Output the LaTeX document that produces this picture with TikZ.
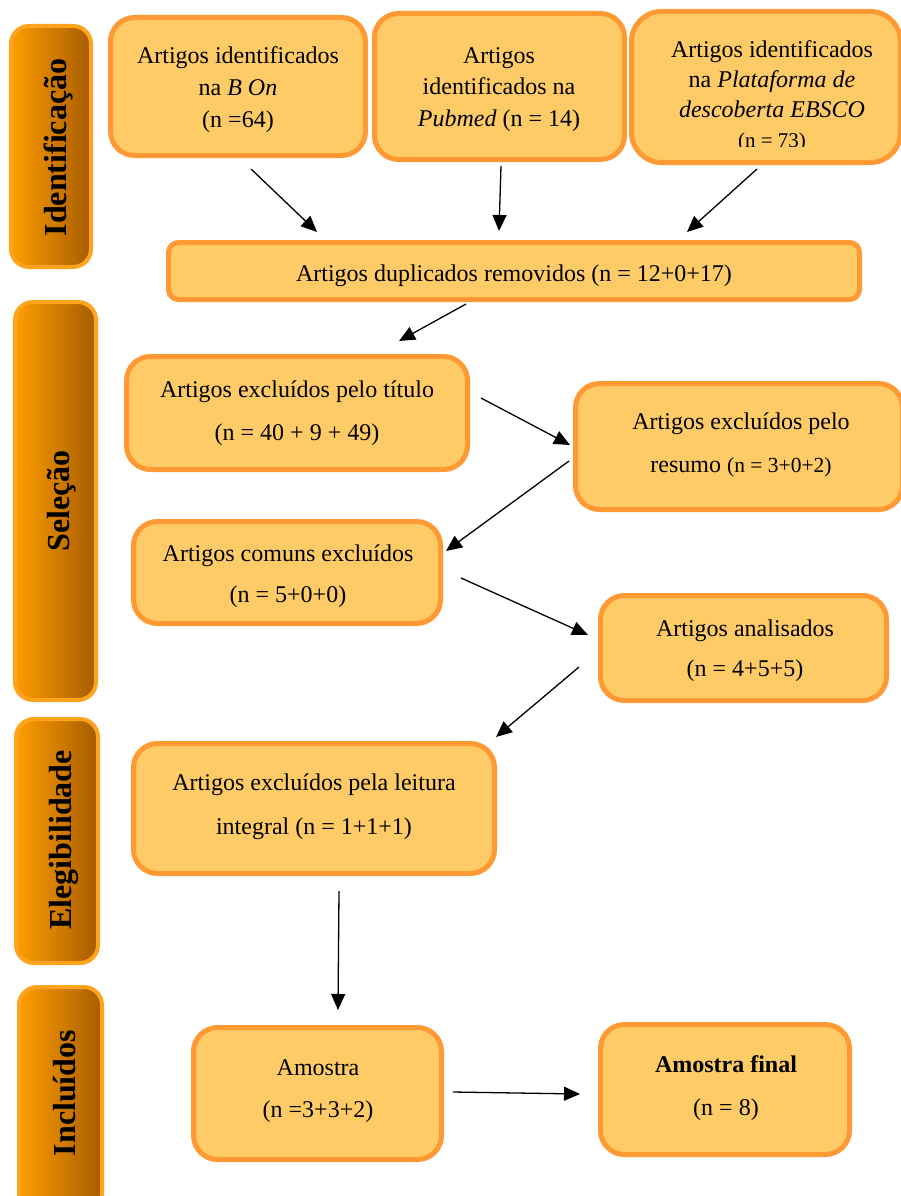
\documentclass[tikz,border=0pt]{standalone}
\usepackage{fontspec}
\setmainfont{Liberation Serif}
\usetikzlibrary{arrows.meta}
\definecolor{boxfill}{HTML}{FECB66}
\definecolor{boxline}{HTML}{FF9933}
\definecolor{barA}{HTML}{FF9E00}
\definecolor{barB}{HTML}{A65C00}
\definecolor{barline}{HTML}{FFA41C}
\begin{document}
\begin{tikzpicture}[x=1pt,y=-1pt,
  box/.style={draw=boxline, line width=5pt, fill=boxfill, rounded corners=24pt, inner sep=0pt},
  txt/.style={align=center, inner sep=0pt, yshift=-3pt},
  bar/.style={draw=barline, line width=4pt, rounded corners=18pt, left color=barA, right color=barB, inner sep=0pt},
  barlbl/.style={rotate=90, font=\fontsize{32}{38}\selectfont\bfseries, inner sep=0pt},
  arr/.style={line width=1.3pt, -{Triangle[length=16pt,width=14pt]}}
]
\useasboundingbox (0,0) rectangle (901,1196);

% side bars
\node[bar, minimum width=80pt, minimum height=241pt] (idb) at (51,146.5) {};
\node[barlbl] (idl) at (59,147.5) {Identificação};
\node[bar, minimum width=81pt, minimum height=398pt] (selb) at (55.5,501) {};
\node[barlbl] (sell) at (62,501) {Seleção};
\node[bar, minimum width=82pt, minimum height=244pt] (eleb) at (57,841) {};
\node[barlbl] (elel) at (64,840) {Elegibilidade};
\node[bar, minimum width=83pt, minimum height=226pt] (incb) at (60.5,1100) {};
\node[barlbl] (incl) at (65,1093) {Incluídos};

% boxes
\node[box, minimum width=255pt, minimum height=138pt] (bon) at (238,86.5) {};
\node[txt, font=\fontsize{24}{32}\selectfont] (bonT) at (238,87) {Artigos identificados\\na \textit{B On}\\(n =64)};

\node[box, minimum width=250pt, minimum height=146pt] (pub) at (499.5,86.5) {};
\node[txt, font=\fontsize{24}{31.5}\selectfont] (pubT) at (499,86.5) {Artigos\\identificados na\\\textit{Pubmed} (n = 14)};

\node[box, rounded corners=30pt, minimum width=269pt, minimum height=151pt] (ebs) at (766,87) {};
\begin{scope}
\clip (600,0) rectangle (901,146);
\node[txt, font=\fontsize{24}{30}\selectfont] (ebsT) at (772,93) {Artigos identificados\\na \textit{Plataforma de}\\\textit{descoberta EBSCO}\\{\fontsize{21}{30}\selectfont (n = 73)}};
\end{scope}

\node[box, rounded corners=10pt, minimum width=691pt, minimum height=57pt] (dup) at (514,271) {};
\node[txt, font=\fontsize{24}{30}\selectfont] (dupT) at (514,273) {Artigos duplicados removidos (n = 12+0+17)};

\node[box, minimum width=341pt, minimum height=113pt] (tit) at (297,413) {};
\node[txt, font=\fontsize{24}{43}\selectfont] (titT) at (297,410.5) {Artigos excluídos pelo título\\(n = 40 + 9 + 49)};

\node[box, minimum width=327pt, minimum height=126pt] (res) at (739,446.5) {};
\node[txt, font=\fontsize{24}{43}\selectfont] (resT) at (741,441.5) {Artigos excluídos pelo\\resumo {\fontsize{21.5}{43}\selectfont (n = 3+0+2)}};

\node[box, minimum width=307pt, minimum height=102pt] (com) at (287,572.5) {};
\node[txt, font=\fontsize{24}{41}\selectfont] (comT) at (288,573.5) {Artigos comuns excluídos\\(n = 5+0+0)};

\node[box, minimum width=286pt, minimum height=105pt] (ana) at (743.5,648) {};
\node[txt, font=\fontsize{24}{40}\selectfont] (anaT) at (745,648) {Artigos analisados\\(n = 4+5+5)};

\node[box, minimum width=361pt, minimum height=130pt] (lei) at (314,808.5) {};
\node[txt, font=\fontsize{24}{44}\selectfont] (leiT) at (314,804) {Artigos excluídos pela leitura\\integral (n = 1+1+1)};

\node[box, minimum width=248pt, minimum height=132pt] (amo) at (317.5,1093.5) {};
\node[txt, font=\fontsize{24}{42}\selectfont] (amoT) at (318,1088) {Amostra\\(n =3+3+2)};

\node[box, minimum width=249pt, minimum height=130pt] (fin) at (725,1089.5) {};
\node[txt, font=\fontsize{24}{43}\selectfont] (finT) at (726,1085.5) {\textbf{Amostra final}\\(n = 8)};

% arrow end points
\coordinate (a1s) at (251,169);  \coordinate (a1e) at (317,232);
\coordinate (a2s) at (501,166);  \coordinate (a2e) at (499,231);
\coordinate (a3s) at (757,169);  \coordinate (a3e) at (687,232);
\coordinate (a4s) at (466,304);  \coordinate (a4e) at (399,341);
\coordinate (a5s) at (481,398);  \coordinate (a5e) at (570,445);
\coordinate (a6s) at (569,461);  \coordinate (a6e) at (446,551);
\coordinate (a7s) at (461,578);  \coordinate (a7e) at (588,635);
\coordinate (a8s) at (579,667);  \coordinate (a8e) at (496,737);
\coordinate (a9s) at (339,891);  \coordinate (a9e) at (338,1010);
\coordinate (a10s) at (453,1092); \coordinate (a10e) at (580,1094);

\draw[arr] (a1s) -- (a1e);
\draw[arr] (a2s) -- (a2e);
\draw[arr] (a3s) -- (a3e);
\draw[arr] (a4s) -- (a4e);
\draw[arr] (a5s) -- (a5e);
\draw[arr] (a6s) -- (a6e);
\draw[arr] (a7s) -- (a7e);
\draw[arr] (a8s) -- (a8e);
\draw[arr] (a9s) -- (a9e);
\draw[arr] (a10s) -- (a10e);
\end{tikzpicture}
\end{document}
